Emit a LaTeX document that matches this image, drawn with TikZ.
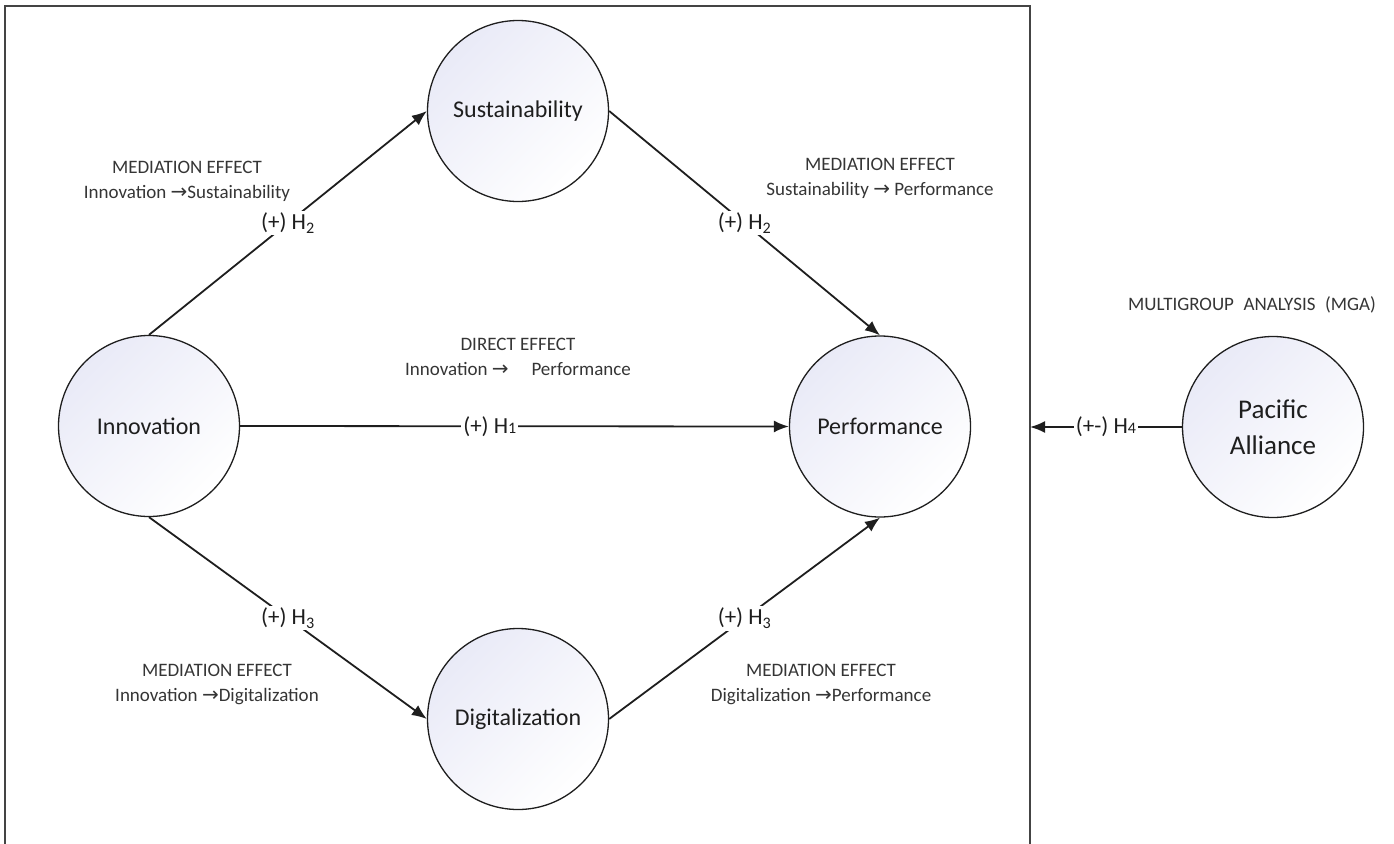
\documentclass[tikz,border=0pt]{standalone}
\usepackage{fontspec}
\setmainfont{Carlito}
\newfontfamily\arrowfont{DejaVu Sans}
\usetikzlibrary{arrows.meta}
\definecolor{ink}{RGB}{30,30,30}
\definecolor{lav}{RGB}{233,234,247}
\definecolor{framegray}{RGB}{68,68,68}
% arrow glyph used inside the effect captions
\newcommand{\effarrow}{{\arrowfont\fontsize{20}{20}\selectfont →}}
% baseline-level small index, as in H1 and H4
\newcommand{\lowidx}[1]{{\fontsize{16}{16}\selectfont #1}}

\begin{document}
\begin{tikzpicture}[x=1pt,y=-1pt,
  construct/.style={circle, draw=ink, line width=1.3pt, minimum size=181pt,
    inner sep=0pt, top color=lav, bottom color=white, shading angle=45,
    text=ink, font=\fontsize{24}{28}\selectfont, align=center},
  link/.style={draw=ink, line width=1.8pt, -{Latex[length=15pt,width=12pt]}},
  hyp/.style={fill=white, inner sep=2pt, text=ink, font=\fontsize{23}{25}\selectfont},
  note/.style={text=ink!90, font=\fontsize{19}{25}\selectfont, align=center}
]
\useasboundingbox (0,0) rectangle (1394,843);

% model frame, open at the bottom
\draw[framegray, line width=2.4pt] (5,860) -- (5,6) -- (1030,6) -- (1030,860);
\coordinate (frameedge) at (1030,427);

% constructs
\node[construct] (inn)  at (149,426)   {Innovation};
\node[construct] (sus)  at (518,111)   {Sustainability};
\node[construct] (perf) at (880,426.5) {Performance};
\node[construct] (dig)  at (518,719)   {Digitalization};
\node[construct, font=\fontsize{27}{36}\selectfont] (pac) at (1273,427) {Pacific\\Alliance};

% hypothesised paths
\draw[link] (inn.north) -- node[hyp] {(+) H\textsubscript{2}} (sus.west);
\draw[link] (sus.east)  -- node[hyp] {(+) H\textsubscript{2}} (perf.north);
\draw[link] (inn.east)  -- node[hyp, pos=0.455] {(+) H\lowidx{1}} (perf.west);
\draw[link] (inn.south) -- node[hyp] {(+) H\textsubscript{3}} (dig.west);
\draw[link] (dig.east)  -- node[hyp] {(+) H\textsubscript{3}} (perf.south);
\draw[link] (pac.west)  -- node[hyp] {(+-) H\lowidx{4}} (frameedge);

% effect captions
\node[note] (capis) at (187,181) {MEDIATION EFFECT\\Innovation \effarrow Sustainability};
\node[note] (capsp) at (880,178) {MEDIATION EFFECT\\Sustainability \effarrow{} Performance};
\node[note] (capip) at (518,357) {DIRECT EFFECT\\Innovation \effarrow\hspace{1.2em}Performance};
\node[note] (capid) at (217,684) {MEDIATION EFFECT\\Innovation \effarrow Digitalization};
\node[note] (capdp) at (821,684) {MEDIATION EFFECT\\Digitalization \effarrow Performance};
\node[note] (capmga) at (1252,305) {MULTIGROUP\hspace{0.5em}ANALYSIS\hspace{0.5em}(MGA)};
\end{tikzpicture}
\end{document}
